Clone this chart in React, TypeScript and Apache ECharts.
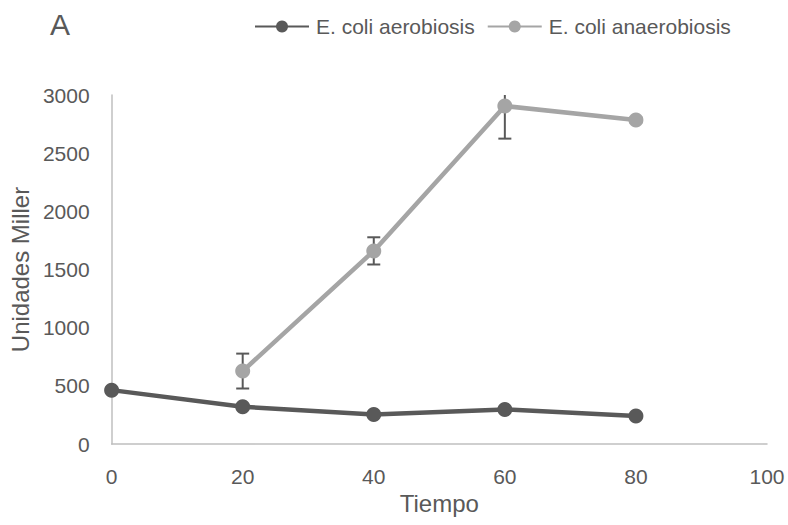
import React, { useEffect, useRef } from "react";
import * as echarts from "echarts";

const aerobicTimes = [0, 20, 40, 60, 80];
const aerobicValues = [463, 320, 254, 297, 240];
const aerobicErrors = [12, 15, 12, 15, 12];

const anaerobicTimes = [20, 40, 60, 80];
const anaerobicValues = [627, 1660, 2905, 2785];
const anaerobicErrors = [150, 117, 280, 20];

const seriesNames = ["E. coli aerobiosis", "E. coli anaerobiosis"];
const xTitle = "Tiempo";
const yTitle = "Unidades Miller";
const panelLabel = "A";

const DARK = "#595959";
const LIGHT = "#A5A5A5";
const TEXT = "#595959";
const AXIS = "#BFBFBF";
const FONT = "'Liberation Sans', Arial, sans-serif";

function errData(xs: number[], ys: number[], es: number[]) {
  return xs.map((x, i) => [x, ys[i] - es[i], ys[i] + es[i]]);
}

function errorSeries(data: number[][]) {
  return {
    type: "custom",
    silent: true,
    z: 1,
    clip: true,
    encode: { x: 0, y: [1, 2] },
    data,
    renderItem: (params: any, api: any) => {
      const x = api.value(0);
      const lo = api.coord([x, api.value(1)]);
      const hi = api.coord([x, api.value(2)]);
      const hw = 6.5;
      const style = { stroke: DARK, lineWidth: 2 };
      return {
        type: "group",
        children: [
          { type: "line", shape: { x1: lo[0], y1: lo[1], x2: hi[0], y2: hi[1] }, style },
          { type: "line", shape: { x1: lo[0] - hw, y1: lo[1], x2: lo[0] + hw, y2: lo[1] }, style },
          { type: "line", shape: { x1: hi[0] - hw, y1: hi[1], x2: hi[0] + hw, y2: hi[1] }, style },
        ],
      };
    },
  };
}

export default function App() {
  const ref = useRef<HTMLDivElement>(null);
  useEffect(() => {
    if (!ref.current) return;
    const chart = echarts.init(ref.current, undefined, { renderer: "svg" });
    chart.setOption({
      animation: false,
      backgroundColor: "#ffffff",
      textStyle: { fontFamily: FONT },
      grid: { left: 111, right: 21, top: 95, bottom: 81 },
      title: {
        text: panelLabel,
        left: 45,
        top: 4,
        textStyle: { fontFamily: FONT, fontSize: 30, fontWeight: "normal", color: TEXT },
      },
      legend: {
        left: 249,
        top: 11,
        itemWidth: 54,
        itemHeight: 15,
        itemGap: 12,
        data: seriesNames,
        textStyle: { fontFamily: FONT, fontSize: 21, color: TEXT, padding: [0, 0, 0, 2] },
      },
      xAxis: {
        type: "value",
        min: 0,
        max: 100,
        interval: 20,
        name: xTitle,
        nameLocation: "middle",
        nameGap: 47,
        nameTextStyle: { fontFamily: FONT, fontSize: 24, color: TEXT },
        axisLine: { show: true, lineStyle: { color: AXIS, width: 1.5 } },
        axisTick: { show: false },
        splitLine: { show: false },
        axisLabel: { fontFamily: FONT, fontSize: 21, color: TEXT, margin: 22, formatter: (v: number) => String(v) },
      },
      yAxis: {
        type: "value",
        min: 0,
        max: 3000,
        interval: 500,
        name: yTitle,
        nameLocation: "middle",
        nameGap: 77,
        nameTextStyle: { fontFamily: FONT, fontSize: 24, color: TEXT },
        axisLine: { show: true, lineStyle: { color: AXIS, width: 1.5 } },
        axisTick: { show: false },
        splitLine: { show: false },
        axisLabel: { fontFamily: FONT, fontSize: 21, color: TEXT, margin: 22, formatter: (v: number) => String(v) },
      },
      series: [
        errorSeries(errData(aerobicTimes, aerobicValues, aerobicErrors)),
        errorSeries(errData(anaerobicTimes, anaerobicValues, anaerobicErrors)),
        {
          name: seriesNames[0],
          type: "line",
          z: 3,
          data: aerobicTimes.map((t, i) => [t, aerobicValues[i]]),
          symbol: "circle",
          symbolSize: 15,
          lineStyle: { color: DARK, width: 4.5 },
          itemStyle: { color: DARK },
        },
        {
          name: seriesNames[1],
          type: "line",
          z: 3,
          data: anaerobicTimes.map((t, i) => [t, anaerobicValues[i]]),
          symbol: "circle",
          symbolSize: 15,
          lineStyle: { color: LIGHT, width: 4.5 },
          itemStyle: { color: LIGHT },
        },
      ],
    });
    return () => chart.dispose();
  }, []);
  return <div ref={ref} style={{ position: "fixed", left: 0, top: 0, width: 788, height: 525 }} />;
}
